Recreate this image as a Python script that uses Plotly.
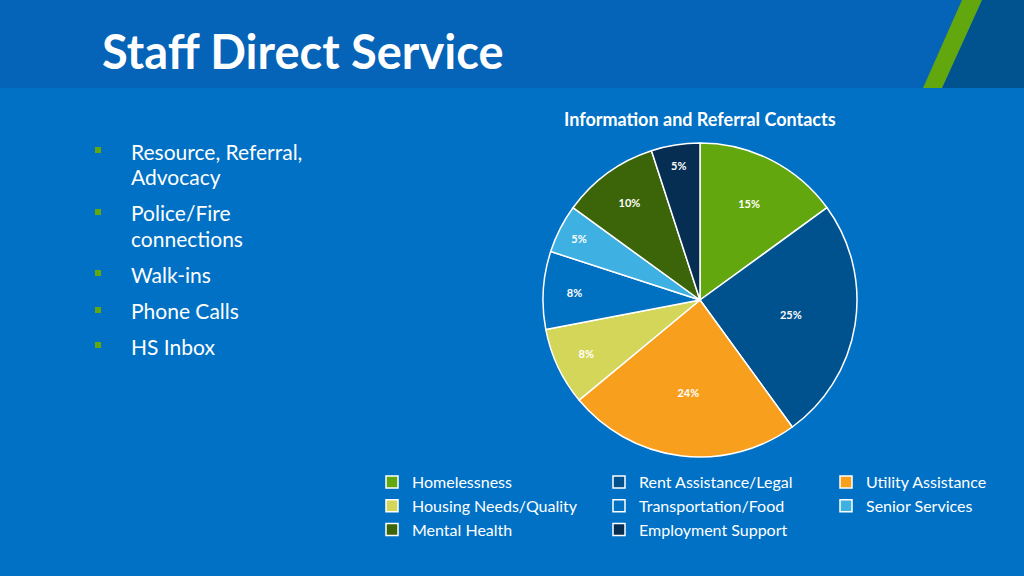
import plotly.graph_objects as go

categories = [
    "Homelessness",
    "Rent Assistance/Legal",
    "Utility Assistance",
    "Housing Needs/Quality",
    "Transportation/Food",
    "Senior Services",
    "Mental Health",
    "Employment Support",
]
shares = [15, 25, 24, 8, 8, 5, 10, 5]
slice_colors = [
    "#63A70F", "#00528F", "#F8A01E", "#D4D65A",
    "#0070C0", "#3EB0E2", "#3C6409", "#052E52",
]
bullet_lines = [
    ["Resource, Referral,", "Advocacy"],
    ["Police/Fire", "connections"],
    ["Walk-ins"],
    ["Phone Calls"],
    ["HS Inbox"],
]

BG = "#0071C5"
HEADER = "#0563B8"
FONT = "Lato"

# plot area: x from 324 to 1024 px, full height
L, W, H = 324, 700, 576


def px_x(x):
    return (x - L) / W


def px_y(y):
    return 1 - y / H


fig = go.Figure()

fig.add_trace(
    go.Pie(
        labels=categories,
        values=shares,
        sort=False,
        direction="clockwise",
        rotation=0,
        marker=dict(colors=slice_colors, line=dict(color="white", width=1.5)),
        textinfo="percent",
        textposition="inside",
        insidetextorientation="horizontal",
        textfont=dict(color="white", size=11, family=FONT, weight="bold"),
        domain=dict(x=[px_x(543), px_x(857)], y=[px_y(457), px_y(143)]),
        hoverinfo="label+percent",
    )
)

shapes = [
    # header band
    dict(type="rect", xref="paper", yref="paper",
         x0=px_x(0), x1=px_x(1024), y0=px_y(88), y1=px_y(0),
         fillcolor=HEADER, line=dict(width=0), layer="below"),
    # dark corner
    dict(type="path", xref="paper", yref="paper",
         path=f"M{px_x(982)},{px_y(0)} L{px_x(1024)},{px_y(0)} "
              f"L{px_x(1024)},{px_y(88)} L{px_x(942)},{px_y(88)} Z",
         fillcolor="#00538F", line=dict(width=0), layer="below"),
    # green stripe
    dict(type="path", xref="paper", yref="paper",
         path=f"M{px_x(962)},{px_y(0)} L{px_x(982)},{px_y(0)} "
              f"L{px_x(942)},{px_y(88)} L{px_x(923)},{px_y(88)} Z",
         fillcolor="#63A70F", line=dict(width=0), layer="below"),
]

annotations = [
    dict(text="<b>Staff Direct Service</b>", x=px_x(100), y=px_y(51),
         xref="paper", yref="paper", xanchor="left", yanchor="middle",
         showarrow=False, font=dict(family=FONT, size=47, color="white")),
    dict(text="<b>Information and Referral Contacts</b>", x=px_x(700), y=px_y(119),
         xref="paper", yref="paper", xanchor="center", yanchor="middle",
         showarrow=False, font=dict(family=FONT, size=18, color="white")),
]

bullet_ys = [150, 212, 273, 310, 345]
line_ys = [[151, 176], [212, 238], [274], [310], [346]]
for by, lys, lines in zip(bullet_ys, line_ys, bullet_lines):
    shapes.append(
        dict(type="rect", xref="paper", yref="paper",
             x0=px_x(95), x1=px_x(101), y0=px_y(by + 3), y1=px_y(by - 3),
             fillcolor="#63A70F", line=dict(width=0))
    )
    for ly, txt in zip(lys, lines):
        annotations.append(
            dict(text=txt, x=px_x(129), y=px_y(ly), xref="paper", yref="paper",
                 xanchor="left", yanchor="middle", align="left", showarrow=False,
                 font=dict(family=FONT, size=21, color="white"))
        )

fig.update_layout(
    width=1024,
    height=576,
    margin=dict(l=L, r=0, t=0, b=0, autoexpand=False),
    paper_bgcolor=BG,
    plot_bgcolor=BG,
    shapes=shapes,
    annotations=annotations,
    showlegend=True,
    legend=dict(
        orientation="h",
        xref="container",
        yref="container",
        x=372 / 1024,
        xanchor="left",
        y=1 - 465 / 576,
        yanchor="top",
        entrywidth=182,
        entrywidthmode="pixels",
        font=dict(family=FONT, size=16, color="white"),
        bgcolor="rgba(0,0,0,0)",
        traceorder="normal",
    ),
)

fig.write_html(
    "out.html",
    config={"displayModeBar": False},
    post_script="document.body.style.margin = '0px';",
)
